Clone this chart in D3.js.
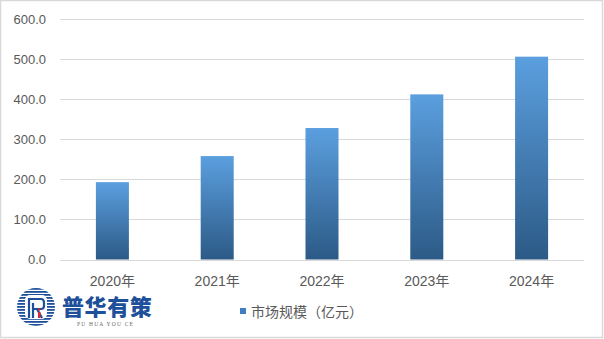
<!DOCTYPE html>
<html>
<head>
<meta charset="utf-8">
<script src="https://cdn.jsdelivr.net/npm/d3@7"></script>
<style>
  html, body { margin: 0; padding: 0; background: #fff; }
  svg { display: block; font-family: "Liberation Sans", "Noto Sans CJK SC", sans-serif; }
</style>
</head>
<body>
<svg id="chart"></svg>
<script>
const years = ['2020年', '2021年', '2022年', '2023年', '2024年'];
const marketSize = [193, 258, 328, 412, 506];
const yTicks = [0, 100, 200, 300, 400, 500, 600];
const seriesName = '市场规模（亿元）';

const totalW = 604, totalH = 339;
const mg = { top: 19, right: 20, bottom: 79.5, left: 60 };
const W = totalW - mg.left - mg.right;
const H = totalH - mg.top - mg.bottom;

const svg = d3.select('#chart').attr('width', totalW).attr('height', totalH);

// gradient for bars
const defs = svg.append('defs');
const grad = defs.append('linearGradient').attr('id', 'barGrad')
  .attr('x1', 0).attr('y1', 0).attr('x2', 0).attr('y2', 1);
grad.append('stop').attr('offset', '0%').attr('stop-color', '#5b9fdf');
grad.append('stop').attr('offset', '100%').attr('stop-color', '#2c5a86');

// outer frame
svg.append('rect').attr('x', 0.5).attr('y', 0.5).attr('width', totalW - 2).attr('height', totalH - 2)
  .attr('fill', '#fff').attr('stroke', '#d9d9d9').attr('stroke-width', 1.5);

const g = svg.append('g').attr('transform', `translate(${mg.left},${mg.top})`);

const x = d3.scaleBand().domain(years).range([0, W]).paddingInner(0.685).paddingOuter(0.3425);
const y = d3.scaleLinear().domain([0, 600]).range([H, 0]);

// gridlines
g.selectAll('line.grid').data(yTicks).join('line')
  .attr('x1', 0).attr('x2', W)
  .attr('y1', d => Math.round(y(d)) + 0.5).attr('y2', d => Math.round(y(d)) + 0.5)
  .attr('stroke', '#d9d9d9').attr('stroke-width', 1);

// y labels
g.selectAll('text.ytick').data(yTicks).join('text')
  .attr('x', -14).attr('y', d => y(d) + 4.5)
  .attr('text-anchor', 'end').attr('font-size', 13).attr('fill', '#595959')
  .text(d => d.toFixed(1));

// bars
g.selectAll('rect.bar').data(marketSize).join('rect')
  .attr('x', (d, i) => x(years[i])).attr('width', x.bandwidth())
  .attr('y', d => y(d)).attr('height', d => y(0) - y(d))
  .attr('fill', 'url(#barGrad)');

// x labels
g.selectAll('text.xtick').data(years).join('text')
  .attr('x', d => x(d) + x.bandwidth() / 2).attr('y', H + 26.5)
  .attr('text-anchor', 'middle').attr('font-size', 14).attr('fill', '#595959')
  .text(d => d);

// legend
const lg = svg.append('g').attr('transform', 'translate(240,312)');
lg.append('rect').attr('x', 0).attr('y', -4).attr('width', 6).attr('height', 6).attr('fill', '#3f7fbf');
lg.append('text').attr('x', 11).attr('y', 4.5).attr('font-size', 14).attr('fill', '#595959').text(seriesName);

// logo
const logo = svg.append('g').attr('transform', 'translate(36,307)');
defs.append('clipPath').attr('id', 'logoClip').append('circle').attr('r', 19);
const stripes = logo.append('g').attr('clip-path', 'url(#logoClip)');
d3.range(-19, 20, 3).forEach(v => {
  stripes.append('rect').attr('x', -20).attr('y', v).attr('width', 40).attr('height', 1.8).attr('fill', '#1d4f9a');
});
logo.append('rect').attr('x', -11).attr('y', -12).attr('width', 22).attr('height', 24).attr('rx', 5).attr('fill', '#fff');
logo.append('path')
  .attr('d', 'M-7,11 L-7,-8 L5,-8 Q8,-8 8,-4 L8,-1 Q8,2 5,2 L-3,2 M-3,-4 L-3,11 M1,2 L6,11')
  .attr('fill', 'none').attr('stroke', '#1d4f9a').attr('stroke-width', 2.2);
logo.append('rect').attr('x', 2).attr('y', 5).attr('width', 2.5).attr('height', 6).attr('fill', '#d7282f');
logo.append('circle').attr('cx', 3.2).attr('cy', 2.5).attr('r', 1.3).attr('fill', '#d7282f');

svg.append('text').attr('x', 62).attr('y', 315)
  .attr('font-family', '"Noto Sans CJK SC", sans-serif').attr('font-weight', 900)
  .attr('font-size', 22).attr('fill', '#1d4f9a').attr('letter-spacing', 0.6).text('普华有策');
svg.append('text').attr('x', 77).attr('y', 326)
  .attr('font-family', '"Liberation Serif", serif').attr('font-size', 5.5)
  .attr('fill', '#666').attr('letter-spacing', 1.2).text('PU HUA YOU CE');
</script>
</body>
</html>
